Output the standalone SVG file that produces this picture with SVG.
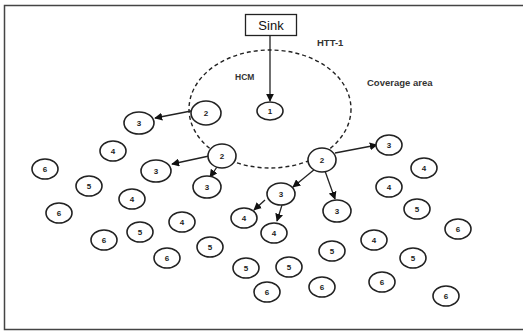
<svg xmlns="http://www.w3.org/2000/svg" width="523" height="331" viewBox="0 0 523 331">
<defs>
<style>
.n ellipse{fill:#fff;stroke:#222;stroke-width:1.6}
.n text{font-family:"Liberation Sans",Arial,sans-serif;font-size:8px;font-weight:bold;fill:#222;text-anchor:middle}
.lbl{font-family:"Liberation Sans",Arial,sans-serif;font-size:9.5px;font-weight:bold;fill:#333}
.e line{stroke:#222;stroke-width:1.3;marker-end:url(#ah)}
</style>
<marker id="ah" viewBox="0 0 10 10" refX="9" refY="5" markerWidth="8" markerHeight="8" markerUnits="userSpaceOnUse" orient="auto">
<path d="M0,0 L10,5 L0,10 z" fill="#111"/>
</marker>
</defs>
<rect x="0" y="0" width="523" height="331" fill="#fff"/>
<rect x="4.5" y="5.5" width="530" height="324" fill="none" stroke="#444" stroke-width="1.5"/>
<ellipse cx="270" cy="109" rx="81" ry="59" fill="none" stroke="#222" stroke-width="1.4" stroke-dasharray="4,3"/>
<text class="lbl" x="317" y="46">HTT-1</text>
<text class="lbl" x="235" y="80" style="font-size:8.5px">HCM</text>
<text class="lbl" x="367" y="86">Coverage area</text>
<g id="sink">
<rect x="245.5" y="14.5" width="51" height="21" fill="#fff" stroke="#222" stroke-width="1.3"/>
<text x="271" y="30" font-family="Liberation Sans,Arial,sans-serif" font-size="13" text-anchor="middle" fill="#111">Sink</text>
</g>
<g class="e" id="edges">
<line x1="270" y1="35.5" x2="270" y2="101"/>
<line x1="191" y1="111" x2="155" y2="118"/>
<line x1="209" y1="156" x2="172" y2="164"/>
<line x1="217" y1="167" x2="210" y2="177"/>
<line x1="335" y1="153" x2="377" y2="145"/>
<line x1="315" y1="169" x2="293" y2="187"/>
<line x1="325" y1="171" x2="335" y2="199"/>
<line x1="265" y1="200" x2="254" y2="210"/>
<line x1="282" y1="205" x2="277" y2="221"/>
</g>
<g class="n" id="n1"><ellipse cx="270" cy="111" rx="13" ry="9"/><text x="270" y="114">1</text></g>
<g class="n" id="n2a"><ellipse cx="206" cy="113" rx="15" ry="12"/><text x="206" y="116">2</text></g>
<g class="n" id="n2b"><ellipse cx="222" cy="156" rx="14" ry="12"/><text x="222" y="159">2</text></g>
<g class="n" id="n2c"><ellipse cx="322" cy="160" rx="14" ry="12"/><text x="322" y="163">2</text></g>
<g class="n" id="n3a"><ellipse cx="139" cy="123" rx="15" ry="11"/><text x="139" y="126">3</text></g>
<g class="n" id="n3b"><ellipse cx="156" cy="171" rx="15" ry="11"/><text x="156" y="174">3</text></g>
<g class="n" id="n3c"><ellipse cx="207" cy="187" rx="14" ry="11"/><text x="207" y="190">3</text></g>
<g class="n" id="n3d"><ellipse cx="281" cy="194" rx="14" ry="11"/><text x="281" y="197">3</text></g>
<g class="n" id="n3e"><ellipse cx="337" cy="211" rx="14" ry="11"/><text x="337" y="214">3</text></g>
<g class="n" id="n3f"><ellipse cx="389" cy="145" rx="13" ry="10"/><text x="389" y="148">3</text></g>
<g class="n" id="n4a"><ellipse cx="113" cy="151" rx="13" ry="10"/><text x="113" y="154">4</text></g>
<g class="n" id="n4b"><ellipse cx="132" cy="199" rx="13" ry="10"/><text x="132" y="202">4</text></g>
<g class="n" id="n4c"><ellipse cx="182" cy="222" rx="13" ry="10"/><text x="182" y="225">4</text></g>
<g class="n" id="n4d"><ellipse cx="244" cy="218" rx="13" ry="10"/><text x="244" y="221">4</text></g>
<g class="n" id="n4e"><ellipse cx="274" cy="233" rx="13" ry="10"/><text x="274" y="236">4</text></g>
<g class="n" id="n4f"><ellipse cx="389" cy="187" rx="13" ry="10"/><text x="389" y="190">4</text></g>
<g class="n" id="n4g"><ellipse cx="424" cy="168" rx="13" ry="10"/><text x="424" y="171">4</text></g>
<g class="n" id="n4h"><ellipse cx="374" cy="240" rx="13" ry="10"/><text x="374" y="243">4</text></g>
<g class="n" id="n5a"><ellipse cx="89" cy="186" rx="13" ry="10"/><text x="89" y="189">5</text></g>
<g class="n" id="n5b"><ellipse cx="140" cy="232" rx="13" ry="10"/><text x="140" y="235">5</text></g>
<g class="n" id="n5c"><ellipse cx="210" cy="247" rx="13" ry="10"/><text x="210" y="250">5</text></g>
<g class="n" id="n5d"><ellipse cx="246" cy="268" rx="13" ry="10"/><text x="246" y="271">5</text></g>
<g class="n" id="n5e"><ellipse cx="289" cy="267" rx="13" ry="10"/><text x="289" y="270">5</text></g>
<g class="n" id="n5f"><ellipse cx="332" cy="251" rx="13" ry="10"/><text x="332" y="254">5</text></g>
<g class="n" id="n5g"><ellipse cx="417" cy="209" rx="13" ry="10"/><text x="417" y="212">5</text></g>
<g class="n" id="n5h"><ellipse cx="413" cy="258" rx="13" ry="10"/><text x="413" y="261">5</text></g>
<g class="n" id="n6a"><ellipse cx="45" cy="169" rx="13" ry="10"/><text x="45" y="172">6</text></g>
<g class="n" id="n6b"><ellipse cx="59" cy="213" rx="13" ry="10"/><text x="59" y="216">6</text></g>
<g class="n" id="n6c"><ellipse cx="104" cy="240" rx="13" ry="10"/><text x="104" y="243">6</text></g>
<g class="n" id="n6d"><ellipse cx="167" cy="258" rx="13" ry="10"/><text x="167" y="261">6</text></g>
<g class="n" id="n6e"><ellipse cx="267" cy="292" rx="13" ry="10"/><text x="267" y="295">6</text></g>
<g class="n" id="n6f"><ellipse cx="322" cy="287" rx="13" ry="10"/><text x="322" y="290">6</text></g>
<g class="n" id="n6g"><ellipse cx="382" cy="282" rx="13" ry="10"/><text x="382" y="285">6</text></g>
<g class="n" id="n6h"><ellipse cx="446" cy="296" rx="13" ry="10"/><text x="446" y="299">6</text></g>
<g class="n" id="n6i"><ellipse cx="458" cy="229" rx="13" ry="10"/><text x="458" y="232">6</text></g>
</svg>
